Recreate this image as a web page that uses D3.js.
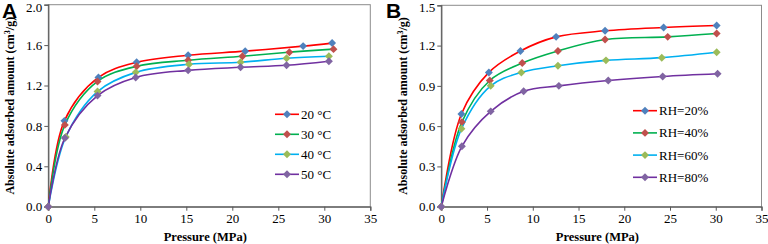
<!DOCTYPE html>
<html><head><meta charset="utf-8">
<script src="https://cdn.jsdelivr.net/npm/d3@7"></script>
<style>body{margin:0;background:#fff}svg{display:block}</style>
</head><body>
<svg id="c" width="768" height="244"></svg>
<script>
// Panel A: temperature series
const seriesA = ["20 °C", "30 °C", "40 °C", "50 °C"];
const a20 = [[0,0],[1.75,0.85],[5.45,1.28],[9.6,1.43],[15.2,1.50],[21.4,1.54],[27.7,1.59],[30.85,1.62]];
const a30 = [[0,0],[1.8,0.81],[5.35,1.24],[9.6,1.39],[15.2,1.45],[21.1,1.49],[26.2,1.53],[31.0,1.56]];
const a40 = [[0,0],[1.9,0.69],[5.35,1.14],[9.5,1.33],[15.3,1.41],[20.9,1.43],[25.9,1.47],[30.5,1.49]];
const a50 = [[0,0],[1.8,0.68],[5.35,1.10],[9.5,1.28],[15.2,1.35],[20.9,1.38],[25.9,1.40],[30.5,1.44]];
// Panel B: relative humidity series
const seriesB = ["RH=20%", "RH=40%", "RH=60%", "RH=80%"];
const b20 = [[0,0],[2.2,0.69],[5.2,1.00],[8.65,1.16],[12.55,1.265],[17.9,1.31],[24.3,1.335],[30.1,1.35]];
const b40 = [[0,0],[2.25,0.63],[5.3,0.94],[8.85,1.07],[12.75,1.16],[17.9,1.245],[24.75,1.265],[30.1,1.29]];
const b60 = [[0,0],[2.2,0.58],[5.4,0.90],[8.75,1.00],[12.75,1.05],[18.0,1.09],[24.1,1.11],[30.1,1.15]];
const b80 = [[0,0],[2.25,0.45],[5.4,0.71],[9.0,0.86],[12.85,0.90],[18.25,0.94],[24.2,0.97],[30.2,0.99]];
// Ticks
const xTicks = [0,5,10,15,20,25,30,35];
const yTicksA = [0,0.4,0.8,1.2,1.6,2.0];
const yTicksB = [0,0.3,0.6,0.9,1.2,1.5];

const lineColors = ["#ff0000","#00b050","#00b0f0","#7030a0"];
const markColors = ["#4f81bd","#c0504d","#9bbb59","#8064a2"];

const svg = d3.select("#c");
const serif = "'Liberation Serif','Times New Roman',serif";

function panel(o){
  const g = svg.append("g");
  const x = d3.scaleLinear().domain([0,35]).range([o.left,o.right]);
  const y = d3.scaleLinear().domain([0,o.ymax]).range([o.bottom,o.top]);
  g.append("rect").attr("x",o.left).attr("y",o.top).attr("width",o.right-o.left).attr("height",o.bottom-o.top)
    .attr("fill","none").attr("stroke","#8c8c8c").attr("stroke-width",1);
  const xa = g.append("g").attr("transform",`translate(0,${o.bottom})`)
    .call(d3.axisBottom(x).tickValues(xTicks).tickSize(4).tickPadding(3).tickFormat(d3.format("d")));
  const ya = g.append("g").attr("transform",`translate(${o.left},0)`)
    .call(d3.axisLeft(y).tickValues(o.yTicks).tickSize(4).tickPadding(2).tickFormat(d3.format(".1f")));
  [xa,ya].forEach(a=>{
    a.selectAll("path").attr("stroke","#595959").attr("stroke-width",1.2);
    a.selectAll("line").attr("stroke","#595959");
    a.selectAll("text").attr("font-family",serif).attr("font-size","13px").attr("fill","#000");
  });
  ya.selectAll("text").filter(d=>d===o.ymax).attr("dy","0.5em");
  g.append("text").attr("x",(o.left+o.right)/2 - 4).attr("y",241).attr("text-anchor","middle")
    .attr("font-family",serif).attr("font-weight","bold").attr("font-size","12.5px").text("Pressure (MPa)");
  const yt = g.append("text").attr("transform",`translate(${o.left-34},${(o.top+o.bottom)/2}) rotate(-90)`)
    .attr("text-anchor","middle").attr("font-family",serif).attr("font-weight","bold").attr("font-size","12px");
  yt.append("tspan").text("Absolute adsorbed amount (cm");
  yt.append("tspan").attr("font-size","8px").attr("dy",-4).text("3");
  yt.append("tspan").attr("dy",4).text("/g)");
  g.append("text").attr("x",o.labelX).attr("y",18).attr("font-family","'Liberation Sans',Arial,sans-serif")
    .attr("font-weight","bold").attr("font-size","21px").text(o.label);
  const line = d3.line().x(d=>x(d[0])).y(d=>y(d[1])).curve(d3.curveCatmullRom.alpha(0.5));
  const diamond = d3.symbol().type(d3.symbolDiamond2).size(40);
  o.data.forEach((s,i)=>{
    g.append("path").attr("d",line(s)).attr("fill","none").attr("stroke",lineColors[i]).attr("stroke-width",1.6);
  });
  o.data.forEach((s,i)=>{
    g.selectAll(null).data(s).enter().append("path").attr("d",diamond)
      .attr("transform",d=>`translate(${x(d[0])},${y(d[1])})`).attr("fill",markColors[i]);
  });
  o.names.forEach((n,i)=>{
    const ly = o.legY + i*o.legStep;
    g.append("line").attr("x1",o.legX).attr("x2",o.legX+24).attr("y1",ly).attr("y2",ly)
      .attr("stroke",lineColors[i]).attr("stroke-width",1.6);
    g.append("path").attr("d",diamond).attr("transform",`translate(${o.legX+12},${ly})`).attr("fill",markColors[i]);
    g.append("text").attr("x",o.legX+26).attr("y",ly).attr("dy","0.35em").attr("font-family",serif)
      .attr("font-size","13px").text(n);
  });
}

panel({left:48.3,right:370.3,top:4.7,bottom:206.7,ymax:2.0,yTicks:yTicksA,data:[a20,a30,a40,a50],names:seriesA,
  label:"A",labelX:2,legX:275,legY:114.3,legStep:20});
panel({left:441.3,right:761.5,top:5.3,bottom:206.7,ymax:1.5,yTicks:yTicksB,data:[b20,b40,b60,b80],names:seriesB,
  label:"B",labelX:386,legX:633,legY:110.7,legStep:22.2});
</script>
</body></html>
